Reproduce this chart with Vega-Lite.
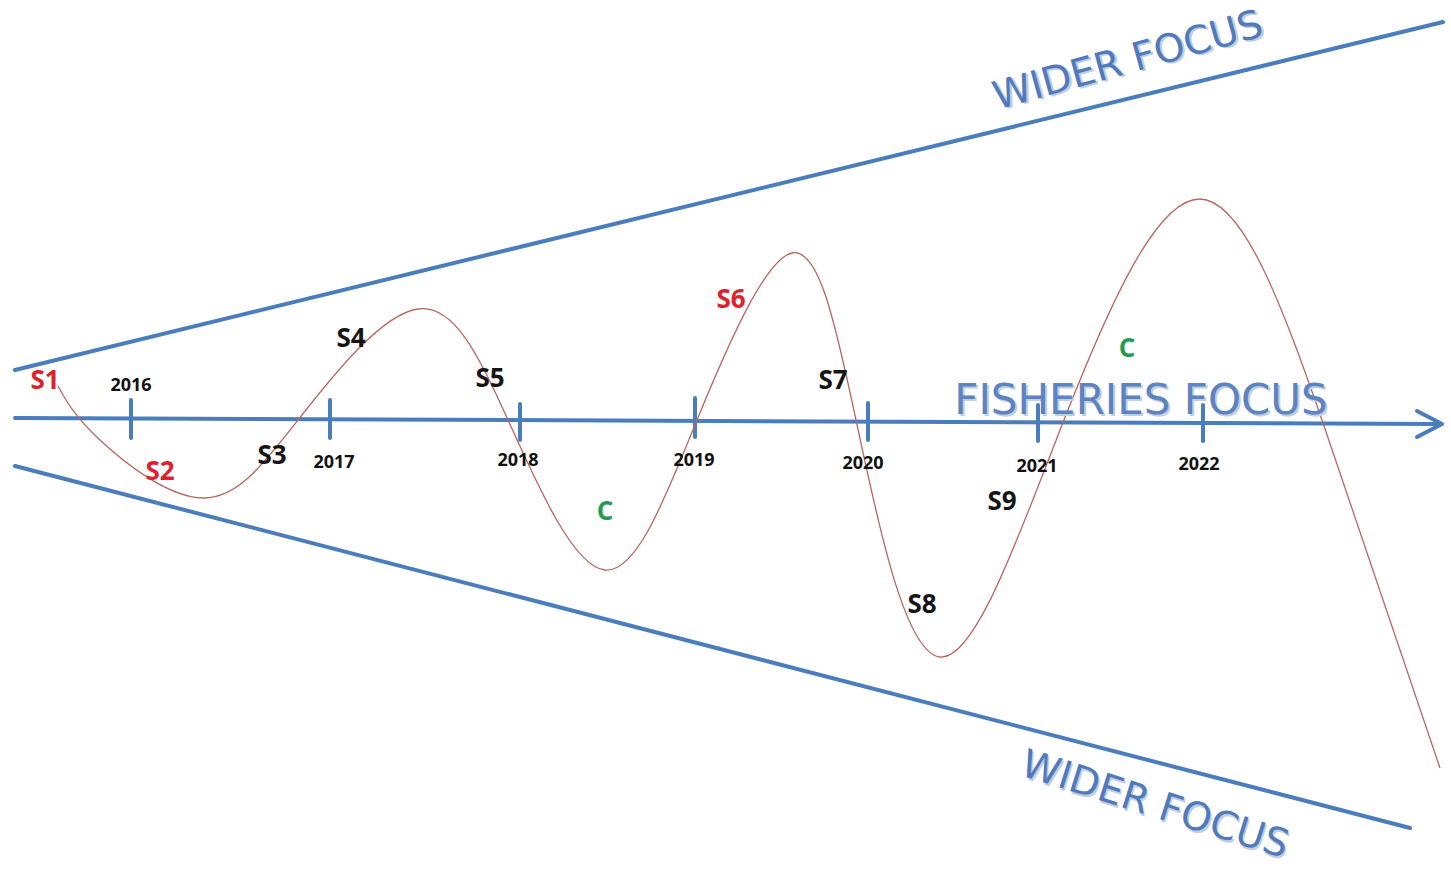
{
  "$schema": "https://vega.github.io/schema/vega-lite/v6.json",
  "width": 1451,
  "height": 872,
  "autosize": {"type": "fit", "contains": "padding"},
  "padding": 0,
  "background": "white",
  "config": {"view": {"stroke": null}},
  "datasets": {
    "guides": [
      {"id": "upper", "o": 1, "x": 15, "y": 370},
      {"id": "upper", "o": 2, "x": 1443, "y": 22},
      {"id": "lower", "o": 1, "x": 15, "y": 466},
      {"id": "lower", "o": 2, "x": 1410, "y": 828},
      {"id": "axis", "o": 1, "x": 15, "y": 418},
      {"id": "axis", "o": 2, "x": 1436, "y": 424},
      {"id": "head", "o": 1, "x": 1417, "y": 411},
      {"id": "head", "o": 2, "x": 1442, "y": 424},
      {"id": "head", "o": 3, "x": 1417, "y": 437},
      {"id": "t2016", "o": 1, "x": 131, "y": 400},
      {"id": "t2016", "o": 2, "x": 131, "y": 438},
      {"id": "t2017", "o": 1, "x": 330, "y": 400},
      {"id": "t2017", "o": 2, "x": 330, "y": 438},
      {"id": "t2018", "o": 1, "x": 520, "y": 404},
      {"id": "t2018", "o": 2, "x": 520, "y": 440},
      {"id": "t2019", "o": 1, "x": 695, "y": 398},
      {"id": "t2019", "o": 2, "x": 695, "y": 437},
      {"id": "t2020", "o": 1, "x": 868, "y": 403},
      {"id": "t2020", "o": 2, "x": 868, "y": 440},
      {"id": "t2021", "o": 1, "x": 1038, "y": 405},
      {"id": "t2021", "o": 2, "x": 1038, "y": 441},
      {"id": "t2022", "o": 1, "x": 1203, "y": 405},
      {"id": "t2022", "o": 2, "x": 1203, "y": 441}
    ],
    "curve": [
      {"x": 58, "y": 386}, {"x": 100, "y": 440}, {"x": 203, "y": 498}, {"x": 298, "y": 420},
      {"x": 418, "y": 309}, {"x": 508, "y": 420}, {"x": 605, "y": 570}, {"x": 697, "y": 420},
      {"x": 792, "y": 253}, {"x": 856, "y": 420}, {"x": 940, "y": 657}, {"x": 1064, "y": 420},
      {"x": 1200, "y": 199}, {"x": 1322, "y": 420}, {"x": 1440, "y": 768}
    ],
    "years": [
      {"label": "2016", "x": 131, "y": 386},
      {"label": "2017", "x": 334, "y": 463},
      {"label": "2018", "x": 518, "y": 461},
      {"label": "2019", "x": 694, "y": 461},
      {"label": "2020", "x": 863, "y": 464},
      {"label": "2021", "x": 1037, "y": 467},
      {"label": "2022", "x": 1199, "y": 465}
    ],
    "stages": [
      {"label": "S1", "kind": "red", "x": 45, "y": 381},
      {"label": "S2", "kind": "red", "x": 160, "y": 472},
      {"label": "S3", "kind": "black", "x": 272, "y": 456},
      {"label": "S4", "kind": "black", "x": 351, "y": 339},
      {"label": "S5", "kind": "black", "x": 490, "y": 379},
      {"label": "C", "kind": "green", "x": 605, "y": 512},
      {"label": "S6", "kind": "red", "x": 731, "y": 300},
      {"label": "S7", "kind": "black", "x": 833, "y": 381},
      {"label": "S8", "kind": "black", "x": 922, "y": 605},
      {"label": "S9", "kind": "black", "x": 1002, "y": 502},
      {"label": "C", "kind": "green", "x": 1127, "y": 349}
    ],
    "titles": [
      {"label": "FISHERIES FOCUS", "x": 1141, "y": 401}
    ],
    "wideTop": [
      {"label": "WIDER FOCUS", "x": 1128, "y": 61}
    ],
    "wideBottom": [
      {"label": "WIDER FOCUS", "x": 1155, "y": 805}
    ]
  },
  "encoding": {
    "x": {"field": "x", "type": "quantitative", "scale": {"domain": [0, 1451], "nice": false, "zero": false}, "axis": null},
    "y": {"field": "y", "type": "quantitative", "scale": {"domain": [0, 872], "nice": false, "zero": false, "reverse": true}, "axis": null}
  },
  "layer": [
    {
      "data": {"name": "guides"},
      "mark": {"type": "line", "color": "#4a7dbd", "strokeWidth": 4, "strokeCap": "round", "strokeJoin": "round"},
      "encoding": {"detail": {"field": "id"}, "order": {"field": "o", "type": "quantitative"}}
    },
    {
      "data": {"name": "curve"},
      "mark": {"type": "line", "color": "#b9675e", "strokeWidth": 1.3, "interpolate": "natural"},
      "encoding": {}
    },
    {
      "data": {"name": "years"},
      "mark": {"type": "text", "font": "Open Sans", "fontWeight": "bold", "fontSize": 18, "color": "#111111", "baseline": "middle", "align": "center"},
      "encoding": {"text": {"field": "label"}}
    },
    {
      "data": {"name": "stages"},
      "mark": {"type": "text", "font": "Open Sans", "fontWeight": "bold", "fontSize": 26, "baseline": "middle", "align": "center"},
      "encoding": {
        "text": {"field": "label"},
        "color": {"field": "kind", "type": "nominal", "scale": {"domain": ["red", "black", "green"], "range": ["#e0202a", "#151515", "#1e9e4e"]}, "legend": null}
      }
    },
    {
      "data": {"name": "titles"},
      "mark": {"type": "text", "font": "DejaVu Sans", "fontSize": 42, "color": "#c3cde0", "baseline": "middle", "align": "center", "dx": 2, "dy": 2},
      "encoding": {"text": {"field": "label"}}
    },
    {
      "data": {"name": "titles"},
      "mark": {"type": "text", "font": "DejaVu Sans", "fontSize": 42, "color": "#5b84c0", "baseline": "middle", "align": "center"},
      "encoding": {"text": {"field": "label"}}
    },
    {
      "data": {"name": "wideTop"},
      "mark": {"type": "text", "font": "DejaVu Sans", "fontSize": 39, "color": "#c3cde0", "baseline": "middle", "align": "center", "angle": 344.5, "dx": 2, "dy": 2},
      "encoding": {"text": {"field": "label"}}
    },
    {
      "data": {"name": "wideTop"},
      "mark": {"type": "text", "font": "DejaVu Sans", "fontSize": 39, "color": "#4f7bbd", "baseline": "middle", "align": "center", "angle": 344.5},
      "encoding": {"text": {"field": "label"}}
    },
    {
      "data": {"name": "wideBottom"},
      "mark": {"type": "text", "font": "DejaVu Sans", "fontSize": 39, "color": "#c3cde0", "baseline": "middle", "align": "center", "angle": 17.5, "dx": 2, "dy": 2},
      "encoding": {"text": {"field": "label"}}
    },
    {
      "data": {"name": "wideBottom"},
      "mark": {"type": "text", "font": "DejaVu Sans", "fontSize": 39, "color": "#4f7bbd", "baseline": "middle", "align": "center", "angle": 17.5},
      "encoding": {"text": {"field": "label"}}
    }
  ]
}
